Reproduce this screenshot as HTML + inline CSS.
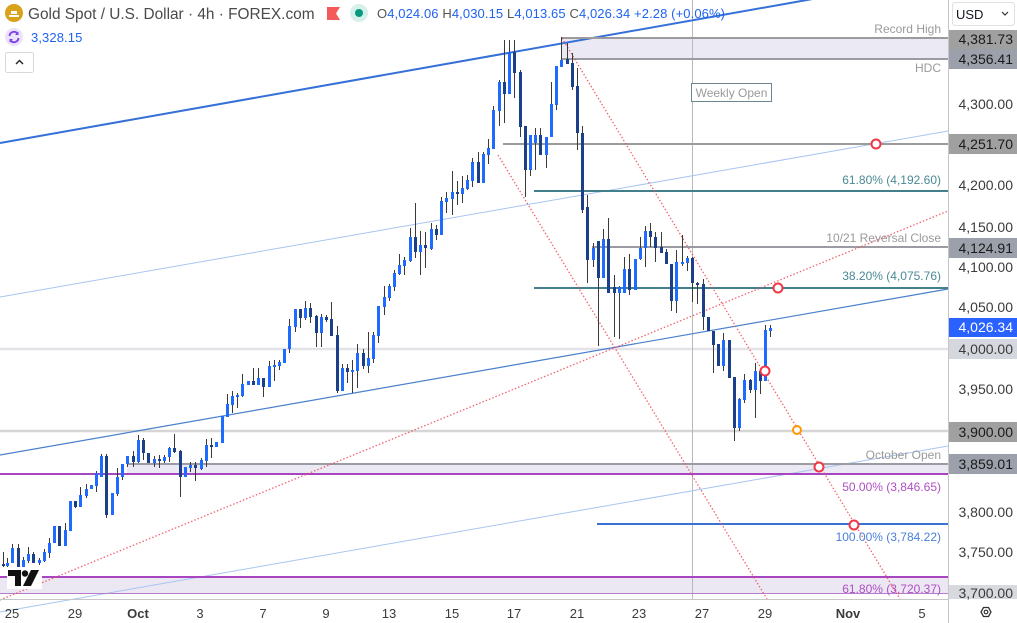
<!DOCTYPE html>
<html><head><meta charset="utf-8"><style>
html,body{margin:0;padding:0;background:#fff;}
svg{display:block;font-family:"Liberation Sans",sans-serif;}
</style></head><body>
<svg width="1017" height="623" viewBox="0 0 1017 623" xmlns="http://www.w3.org/2000/svg">
<rect width="1017" height="623" fill="#fff"/>
<!-- zones -->
<rect x="561" y="38" width="387" height="21" fill="#ebe9f4"/>
<rect x="127" y="464" width="821" height="10" fill="#ebe9f4"/>
<rect x="0" y="577" width="948" height="16" fill="#ebe8f3"/>
<!-- light horizontal levels -->
<line x1="0" y1="349" x2="948" y2="349" stroke="#e2e2e8" stroke-width="2.5"/>
<line x1="0" y1="431" x2="948" y2="431" stroke="#d6d6d6" stroke-width="2.5"/>
<!-- weekly open vertical -->
<line x1="692.5" y1="0" x2="692.5" y2="599" stroke="#b8b8b8" stroke-width="1"/>
<!-- channel lines -->
<line x1="0" y1="297" x2="948" y2="131" stroke="#a9c5f2" stroke-width="1"/>
<line x1="0" y1="612" x2="948" y2="446" stroke="#a9c5f2" stroke-width="1"/>
<line x1="0" y1="455" x2="948" y2="289" stroke="#4a80cc" stroke-width="1.2"/>
<line x1="0" y1="143" x2="948" y2="-25" stroke="#3570d8" stroke-width="2"/>
<!-- horizontal drawn levels -->
<line x1="561" y1="38" x2="948" y2="38" stroke="#9b9b9b" stroke-width="2"/>
<line x1="561" y1="59" x2="948" y2="59" stroke="#9b9ba3" stroke-width="2"/>
<line x1="503" y1="144" x2="948" y2="144" stroke="#9b9b9b" stroke-width="2"/>
<line x1="534" y1="191" x2="948" y2="191" stroke="#43808c" stroke-width="2"/>
<line x1="592" y1="247" x2="948" y2="247" stroke="#9b9ba3" stroke-width="2"/>
<line x1="534" y1="288" x2="948" y2="288" stroke="#43808c" stroke-width="2"/>
<line x1="127" y1="464" x2="948" y2="464" stroke="#9b9ba3" stroke-width="2"/>
<line x1="0" y1="474" x2="948" y2="474" stroke="#a845c0" stroke-width="2"/>
<line x1="597" y1="524" x2="948" y2="524" stroke="#3a72d4" stroke-width="2"/>
<line x1="0" y1="577" x2="948" y2="577" stroke="#a845c0" stroke-width="2"/>
<line x1="0" y1="593.5" x2="948" y2="593.5" stroke="#b57ccb" stroke-width="1"/>
<!-- red dotted lines -->
<g stroke="#f04a5a" stroke-width="1.3" stroke-dasharray="1.5 2" opacity="0.85" fill="none">
<line x1="0" y1="600" x2="948" y2="211"/>
<line x1="562" y1="38" x2="900" y2="599"/>
<line x1="498" y1="155" x2="767" y2="599"/>
</g>
<!-- candles -->
<path fill="none" stroke="#3a3a3a" stroke-width="1" d="M3.5 552V567M7.5 558V567M12.5 544V563M18.5 544V568M23.5 557V569M28.5 547V563M33.5 552V563M39.5 558V565M44.5 549V562M49.5 538V558M54.5 526V543M59.5 526V546M65.5 523V546M70.5 501V531M75.5 501V508M80.5 487V507M86.5 484V498M91.5 485V489M96.5 471V492M101.5 454V477M106.5 454V518M112.5 493V515M117.5 468V496M122.5 464V480M127.5 456V467M133.5 451V467M138.5 435V463M143.5 438V460M148.5 453V463M154.5 456V467M159.5 455V468M164.5 455V463M169.5 447V462M174.5 434V453M180.5 450V497M185.5 467V477M190.5 462V472M195.5 462V481M201.5 458V470M206.5 439V467M211.5 438V458M216.5 442V447M222.5 416V443M227.5 394V417M232.5 391V413M237.5 393V408M242.5 374V397M248.5 381V385M253.5 368V385M258.5 368V385M263.5 378V397M269.5 361V387M274.5 360V381M279.5 360V370M284.5 349V363M289.5 319V353M295.5 309V332M300.5 309V328M305.5 301V320M310.5 303V323M316.5 315V347M321.5 314V347M326.5 315V322M331.5 302V336M337.5 326V393M342.5 364V391M347.5 364V383M352.5 360V393M357.5 344V388M363.5 349V369M368.5 332V373M373.5 332V363M378.5 306V343M384.5 286V315M389.5 284V301M394.5 270V291M399.5 254V275M404.5 257V275M410.5 228V262M415.5 203V258M420.5 231V275M425.5 232V268M431.5 223V250M436.5 225V240M441.5 197V235M446.5 192V213M452.5 171V215M457.5 181V205M462.5 176V203M467.5 175V190M472.5 158V187M478.5 152V183M483.5 152V183M488.5 139V164M493.5 106V149M499.5 80V126M504.5 40V123M509.5 40V94M514.5 40V98M520.5 70V137M525.5 126V197M530.5 135V176M535.5 128V170M540.5 128V155M546.5 137V168M551.5 82V137M556.5 66V110M561.5 37V67M567.5 43V64M572.5 53V90M577.5 68V150M582.5 126V213M587.5 195V283M593.5 243V267M598.5 241V346M603.5 229V278M608.5 218V293M614.5 275V337M619.5 286V339M624.5 257V293M629.5 254V295M635.5 259V290M640.5 237V260M645.5 226V267M650.5 223V247M655.5 232V262M661.5 232V253M666.5 249V264M671.5 264V311M676.5 250V313M682.5 235V266M687.5 256V271M692.5 257V302M697.5 282V304M703.5 279V330M708.5 317V331M713.5 331V373M718.5 344V366M723.5 333V371M729.5 340V378M734.5 377V441M739.5 398V431M744.5 374V403M750.5 379V393M755.5 363V418M760.5 371V394M765.5 325V381M770.5 325V337"/>
<path fill="#1f6bff" d="M6 563h3V566h-3zM11 548h3V563h-3zM22 560h3V567h-3zM27 554h3V561h-3zM38 560h3V563h-3zM43 552h3V561h-3zM48 543h3V553h-3zM53 526h3V543h-3zM64 530h3V546h-3zM69 501h3V531h-3zM79 495h3V507h-3zM85 489h3V496h-3zM90 485h3V489h-3zM95 473h3V486h-3zM100 456h3V477h-3zM111 493h3V515h-3zM116 477h3V494h-3zM121 464h3V477h-3zM126 456h3V464h-3zM137 440h3V462h-3zM153 459h3V463h-3zM163 457h3V461h-3zM168 448h3V457h-3zM184 467h3V477h-3zM189 465h3V468h-3zM200 460h3V469h-3zM205 445h3V461h-3zM215 442h3V447h-3zM221 416h3V443h-3zM226 404h3V417h-3zM231 396h3V405h-3zM236 395h3V397h-3zM241 384h3V396h-3zM247 381h3V385h-3zM257 378h3V385h-3zM268 366h3V387h-3zM273 365h3V367h-3zM278 362h3V366h-3zM283 349h3V363h-3zM288 326h3V349h-3zM294 309h3V327h-3zM304 308h3V318h-3zM320 317h3V333h-3zM341 368h3V391h-3zM351 370h3V372h-3zM356 353h3V371h-3zM367 358h3V366h-3zM372 335h3V359h-3zM377 306h3V336h-3zM383 297h3V307h-3zM388 286h3V298h-3zM393 273h3V287h-3zM398 265h3V274h-3zM403 260h3V266h-3zM409 237h3V261h-3zM419 245h3V252h-3zM430 229h3V249h-3zM440 201h3V235h-3zM445 198h3V202h-3zM451 192h3V199h-3zM461 188h3V194h-3zM466 180h3V189h-3zM471 162h3V181h-3zM482 154h3V183h-3zM487 148h3V155h-3zM492 110h3V149h-3zM498 82h3V111h-3zM508 52h3V94h-3zM529 135h3V170h-3zM534 135h3V143h-3zM545 137h3V155h-3zM550 104h3V137h-3zM555 66h3V105h-3zM560 60h3V67h-3zM592 248h3V260h-3zM602 239h3V278h-3zM618 287h3V293h-3zM623 269h3V293h-3zM634 259h3V290h-3zM639 248h3V259h-3zM644 231h3V248h-3zM675 262h3V301h-3zM681 262h3V264h-3zM686 258h3V263h-3zM722 340h3V366h-3zM738 399h3V428h-3zM743 380h3V400h-3zM754 371h3V390h-3zM764 330h3V381h-3zM769 328h3V331h-3z"/>
<path fill="#1b3f88" d="M2 564h3V566h-3zM17 548h3V567h-3zM32 554h3V563h-3zM58 526h3V546h-3zM74 501h3V507h-3zM105 456h3V515h-3zM132 456h3V462h-3zM142 440h3V453h-3zM147 453h3V463h-3zM158 459h3V461h-3zM173 448h3V452h-3zM179 451h3V477h-3zM194 465h3V468h-3zM210 445h3V447h-3zM252 381h3V385h-3zM262 378h3V387h-3zM299 309h3V318h-3zM309 308h3V317h-3zM315 316h3V333h-3zM325 317h3V320h-3zM330 319h3V336h-3zM336 335h3V391h-3zM346 368h3V372h-3zM362 353h3V366h-3zM414 237h3V252h-3zM424 245h3V248h-3zM435 229h3V235h-3zM456 192h3V194h-3zM477 162h3V183h-3zM503 82h3V94h-3zM513 52h3V73h-3zM519 72h3V127h-3zM524 126h3V170h-3zM539 135h3V155h-3zM566 59h3V64h-3zM571 63h3V87h-3zM576 86h3V133h-3zM581 133h3V210h-3zM586 207h3V260h-3zM597 241h3V278h-3zM607 239h3V293h-3zM613 287h3V293h-3zM628 269h3V290h-3zM649 231h3V237h-3zM654 237h3V248h-3zM660 247h3V253h-3zM665 252h3V264h-3zM670 264h3V301h-3zM691 258h3V283h-3zM696 283h3V285h-3zM702 284h3V317h-3zM707 317h3V331h-3zM712 331h3V345h-3zM717 344h3V366h-3zM728 340h3V378h-3zM733 377h3V428h-3zM749 380h3V390h-3zM759 371h3V381h-3z"/>
<!-- circles -->
<g fill="#fff" stroke-width="2">
<circle cx="876" cy="144" r="4.5" stroke="#f23645"/>
<circle cx="778" cy="288" r="4.5" stroke="#f23645"/>
<circle cx="765" cy="371" r="4.5" stroke="#f23645"/>
<circle cx="797" cy="430" r="4" stroke="#ff9800"/>
<circle cx="819" cy="467" r="4.5" stroke="#f23645"/>
<circle cx="854" cy="525" r="4.5" stroke="#f23645"/>
</g>
<!-- weekly open label -->
<rect x="691.5" y="83.5" width="80" height="18" fill="#fff" stroke="#6e8590" stroke-width="1"/>
<text x="731.5" y="97" font-size="12" fill="#9a9a9a" text-anchor="middle">Weekly Open</text>
<!-- annotation labels -->
<g font-size="12" text-anchor="end">
<text x="941" y="33" fill="#9a9a9a">Record High</text>
<text x="941" y="72" fill="#9a9a9a">HDC</text>
<text x="941" y="184" fill="#4a8a94">61.80% (4,192.60)</text>
<text x="941" y="242" fill="#9a9a9a">10/21 Reversal Close</text>
<text x="941" y="280" fill="#4a8a94">38.20% (4,075.76)</text>
<text x="941" y="459" fill="#9a9a9a">October Open</text>
<text x="941" y="491" fill="#b04fc4">50.00% (3,846.65)</text>
<text x="941" y="541" fill="#4a80dc">100.00% (3,784.22)</text>
<text x="941" y="593" fill="#b04fc4">61.80% (3,720.37)</text>
</g>
<!-- TV logo -->
<rect x="7" y="567" width="35" height="22" fill="#fff"/>
<path fill="#111" d="M8 570h13v16h-6v-10h-7z"/>
<circle cx="25" cy="573.5" r="3.2" fill="#111"/>
<path fill="#111" d="M31 570h8l-8 16h-8z"/>
<!-- axes -->
<line x1="0" y1="599.5" x2="948" y2="599.5" stroke="#c6c6c6" stroke-width="1"/>
<line x1="948.5" y1="0" x2="948.5" y2="623" stroke="#c6c6c6" stroke-width="1"/>
<!-- right axis label boxes -->
<rect x="949" y="30" width="68" height="19" fill="#a0a0a0"/>
<rect x="949" y="49" width="68" height="20" fill="#9ba0ab"/>
<rect x="949" y="134" width="68" height="20" fill="#a0a0a0"/>
<rect x="949" y="238" width="68" height="20" fill="#9ba0ab"/>
<rect x="949" y="318" width="68" height="19" fill="#2962ff"/>
<rect x="949" y="339" width="68" height="20" fill="#d5d7de"/>
<rect x="949" y="422" width="68" height="20" fill="#a0a0a0"/>
<rect x="949" y="454" width="68" height="20" fill="#9ba0ab"/>
<rect x="949" y="585" width="68" height="14" fill="#d8d9df"/>
<g font-size="14" text-anchor="end" fill="#3b3b3b">
<text x="1013" y="44" fill="#1a1a1a">4,381.73</text>
<text x="1013" y="64" fill="#1a1a1a">4,356.41</text>
<text x="1013" y="109">4,300.00</text>
<text x="1013" y="149" fill="#1a1a1a">4,251.70</text>
<text x="1013" y="190">4,200.00</text>
<text x="1013" y="232">4,150.00</text>
<text x="1013" y="253" fill="#1a1a1a">4,124.91</text>
<text x="1013" y="272">4,100.00</text>
<text x="1013" y="312">4,050.00</text>
<text x="1013" y="332" fill="#fff">4,026.34</text>
<text x="1013" y="354">4,000.00</text>
<text x="1013" y="394">3,950.00</text>
<text x="1013" y="437" fill="#1a1a1a">3,900.00</text>
<text x="1013" y="469" fill="#1a1a1a">3,859.01</text>
<text x="1013" y="517">3,800.00</text>
<text x="1013" y="557">3,750.00</text>
<text x="1013" y="598">3,700.00</text>
</g>
<!-- bottom axis labels -->
<g font-size="13" text-anchor="middle" fill="#3b3b3b">
<text x="12" y="618">25</text>
<text x="75" y="618">29</text>
<text x="138" y="618" font-weight="bold">Oct</text>
<text x="200" y="618">3</text>
<text x="263" y="618">7</text>
<text x="326" y="618">9</text>
<text x="389" y="618">13</text>
<text x="452" y="618">15</text>
<text x="514" y="618">17</text>
<text x="577" y="618">21</text>
<text x="639" y="618">23</text>
<text x="702" y="618">27</text>
<text x="765" y="618">29</text>
<text x="848" y="618" font-weight="bold">Nov</text>
<text x="922" y="618">5</text>
</g>
<!-- settings icon -->
<polygon points="981,612 983.5,607.5 988.5,607.5 991,612 988.5,616.5 983.5,616.5" fill="none" stroke="#333" stroke-width="1.3"/>
<circle cx="986" cy="612" r="1.8" fill="none" stroke="#333" stroke-width="1.2"/>
<!-- USD button -->
<rect x="952.5" y="2.5" width="62" height="23" rx="3" fill="#fff" stroke="#e0e0e0"/>
<text x="956" y="19" font-size="13" fill="#131722">USD</text>
<path d="M1002 12l3 3 3-3" fill="none" stroke="#333" stroke-width="1.2"/>
<!-- header -->
<circle cx="14" cy="13" r="9" fill="#d9a21b"/>
<path d="M9 15h10v2h-10zM11 11h6v3h-6z" fill="#fff"/>
<text x="28" y="19" font-size="15.4" fill="#4a4a4a">Gold Spot / U.S. Dollar · 4h · FOREX.com</text>
<path d="M327 7h13l-4 6.5 4 6.5h-13z" fill="#f55a5a"/>
<circle cx="359" cy="13" r="9" fill="#d8f0ea"/>
<circle cx="359" cy="13" r="4" fill="#089981"/>
<text x="377" y="18" font-size="13" letter-spacing="0.1" fill="#1f63f0"><tspan fill="#555">O</tspan>4,024.06 <tspan fill="#555">H</tspan>4,030.15 <tspan fill="#555">L</tspan>4,013.65 <tspan fill="#555">C</tspan>4,026.34 +2.28 (+0.06%)</text>
<circle cx="14" cy="37" r="9" fill="#ebe3fb"/>
<path d="M9.5 36a4.5 4.5 0 0 1 8 -2.5M18.5 38a4.5 4.5 0 0 1 -8 2.5" fill="none" stroke="#7b3fe4" stroke-width="1.8"/>
<path d="M18.5 31.5v3.5h-3.5zM9.5 42.5v-3.5h3.5z" fill="#7b3fe4"/>
<text x="31" y="42" font-size="13" letter-spacing="0.1" fill="#1f63f0">3,328.15</text>
<rect x="5.5" y="52.5" width="28" height="20" rx="2" fill="#fff" stroke="#d8d8d8"/>
<path d="M16 64l3.5-3.5 3.5 3.5" fill="none" stroke="#222" stroke-width="1.4"/>
</svg>
</body></html>
